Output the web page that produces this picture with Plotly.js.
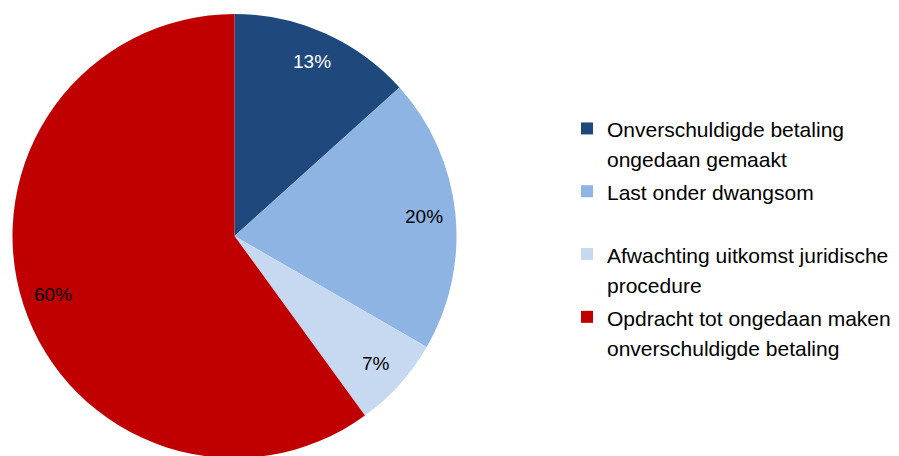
<!DOCTYPE html>
<html>
<head>
<meta charset="utf-8">
<script src="https://cdn.plot.ly/plotly-3.0.1.min.js"></script>
<style>
html,body{margin:0;padding:0;overflow:hidden;background:#fff;}
#chart{width:899px;height:462px;}
</style>
</head>
<body>
<div id="chart"></div>
<script>
const labels = [
  "Onverschuldigde betaling<br>ongedaan gemaakt",
  "Last onder dwangsom<br> ",
  "Afwachting uitkomst juridische<br>procedure",
  "Opdracht tot ongedaan maken<br>onverschuldigde betaling"
];
const values = [2, 3, 1, 9];
const sliceColors = ["#1F497D", "#8DB4E2", "#C6D9F1", "#C00000"];
const labelColors = ["#FFFFFF", "#000000", "#000000", "#000000"];

const W = 899, H = 462;
const cx = 234.5, cy = 236, R = 222;

const total = values.reduce((a, b) => a + b, 0);
const annotations = [];
let cum = 0;
values.forEach((v, i) => {
  const mid = (cum + v / 2) / total * 2 * Math.PI;
  cum += v;
  const r = R * 0.86;
  const px = cx + r * Math.sin(mid);
  const py = cy - r * Math.cos(mid);
  annotations.push({
    xref: "paper", yref: "paper",
    x: px / W, y: 1 - py / H,
    xanchor: "center", yanchor: "middle",
    showarrow: false,
    text: Math.round(v / total * 100) + "%",
    font: {family: "Liberation Sans, Arial, sans-serif", size: 19, color: labelColors[i]}
  });
});

const legendLabels = labels.map(l => '<span style="font-size:21px">' + l + '</span>');

const trace = {
  type: "pie",
  labels: legendLabels,
  values: values,
  sort: false,
  direction: "clockwise",
  rotation: 0,
  textinfo: "none",
  hoverinfo: "none",
  marker: {colors: sliceColors, line: {width: 0}},
  domain: {x: [(cx - R) / W, (cx + R) / W], y: [1 - (cy + R) / H, 1 - (cy - R) / H]}
};

const layout = {
  width: W, height: H,
  margin: {l: 0, r: 0, t: 0, b: 0},
  paper_bgcolor: "#FFFFFF",
  showlegend: true,
  legend: {
    x: 567 / W, y: 1 - 107 / H,
    xanchor: "left", yanchor: "top",
    valign: "top",
    font: {family: "Liberation Sans, Arial, sans-serif", size: 23, color: "#000000"},
    bgcolor: "rgba(0,0,0,0)"
  },
  annotations: annotations
};

Plotly.newPlot("chart", [trace], layout, {displayModeBar: false, staticPlot: true});
</script>
</body>
</html>
